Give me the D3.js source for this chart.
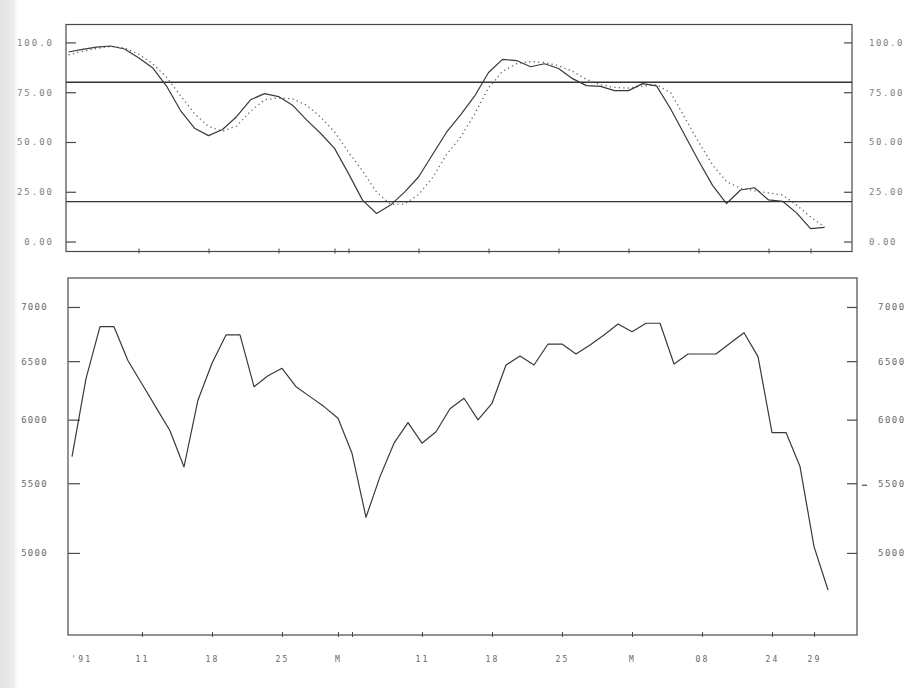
<!DOCTYPE html>
<html>
<head>
<meta charset="utf-8">
<script src="https://cdn.jsdelivr.net/npm/d3@7"></script>
<style>
  html, body { margin: 0; padding: 0; background: #fff; }
  svg { display: block; }
  .lbl { font-family: "DejaVu Sans Mono", monospace; }
</style>
</head>
<body>
<script>
// Trading-day index of each session, '91 Feb -> Apr
const closePrice = [5704, 6346, 6814, 6814, 6504, 6300, 6102, 5910, 5624, 6164,
  6481, 6737, 6737, 6277, 6371, 6437, 6277, 6192, 6108, 6012,
  5730, 5250, 5550, 5810, 5976, 5810, 5902, 6090, 6178, 5998,
  6136, 6466, 6546, 6466, 6654, 6654, 6564, 6645, 6737, 6839,
  6767, 6846, 6846, 6475, 6564, 6564, 6564, 6661, 6758, 6540,
  5895, 5895, 5627, 5043, 4753];

// Stochastic %K (solid) and %D (dotted)
const stochK = [95.2, 96.5, 97.6, 98.2, 96.7, 92.3, 87.3, 78.1, 65.8, 56.9,
  53.2, 56.3, 62.7, 71.2, 74.3, 72.8, 68.5, 61.1, 54.4, 46.8,
  34.1, 20.8, 14.1, 18.3, 24.8, 32.4, 43.7, 54.9, 63.6, 73.0,
  84.9, 91.5, 90.9, 87.8, 89.3, 86.9, 81.8, 78.3, 77.9, 75.8,
  75.8, 79.3, 78.2, 66.7, 53.6, 40.6, 28.2, 19.1, 25.9, 27.0,
  20.9, 20.2, 14.4, 6.5, 7.1];
const stochD = [93.7, 95.5, 97.0, 98.0, 97.2, 94.1, 89.4, 82.5, 73.3, 64.2,
  57.8, 55.4, 58.0, 65.4, 71.2, 72.1, 71.7, 68.5, 62.5, 55.1,
  44.8, 35.5, 24.9, 18.7, 18.8, 23.6, 32.1, 43.7, 52.4, 63.9,
  77.2, 85.5, 89.3, 90.4, 89.9, 88.3, 85.5, 81.4, 78.7, 77.4,
  77.1, 78.1, 78.7, 74.8, 62.5, 50.0, 38.5, 30.1, 26.7, 25.5,
  24.4, 23.4, 18.3, 12.3, 7.4];

const levels = [80, 20];

const stochTicks = [0, 25, 50, 75, 100];
const stochTickLabels = ["0.00", "25.00", "50.00", "75.00", "100.0"];
const priceTicks = [5000, 5500, 6000, 6500, 7000];
const priceTickLabels = ["5000", "5500", "6000", "6500", "7000"];
const priceMark = [5500];

const tickDays = [5, 10, 15, 19, 20, 25, 30, 35, 40, 45, 50, 53];
const tickLabels = ["11", "18", "25", "M", "", "11", "18", "25", "M", "08", "24", "29"];
const yearLabel = "'91";

const W = 915, H = 688;
const ink = "#4a4a4a";

const svg = d3.select("body").append("svg")
  .attr("width", W).attr("height", H);

// paper edge shading
const defs = svg.append("defs");
const grad = defs.append("linearGradient").attr("id", "edge");
grad.append("stop").attr("offset", "0%").attr("stop-color", "#e2e2e2");
grad.append("stop").attr("offset", "75%").attr("stop-color", "#ececec");
grad.append("stop").attr("offset", "100%").attr("stop-color", "#ffffff");
svg.append("rect").attr("x", 0).attr("y", 0).attr("width", 18).attr("height", H)
  .attr("fill", "url(#edge)");

const styleAxis = (g, color, size, spacing) => {
  g.select(".domain").remove();
  g.selectAll(".tick line").attr("stroke", ink).attr("stroke-width", 1.2);
  g.selectAll(".tick text")
    .attr("class", "lbl")
    .attr("fill", color)
    .attr("font-size", size)
    .attr("letter-spacing", spacing);
};

// ---------- upper panel: stochastic ----------
const upper = { l: 66, r: 852, t: 24.5, b: 251.5 };
const xUp = d3.scaleLinear().domain([-0.18, 55.96]).range([upper.l, upper.r]);
const yUp = d3.scaleLinear().domain([-5, 109]).range([upper.b, upper.t]);

const gUp = svg.append("g");

gUp.append("rect")
  .attr("x", upper.l).attr("y", upper.t)
  .attr("width", upper.r - upper.l).attr("height", upper.b - upper.t)
  .attr("fill", "none").attr("stroke", ink).attr("stroke-width", 1.2);

gUp.selectAll("line.level").data(levels).join("line")
  .attr("class", "level")
  .attr("x1", upper.l).attr("x2", upper.r)
  .attr("y1", d => yUp(d)).attr("y2", d => yUp(d))
  .attr("stroke", "#333").attr("stroke-width", 1.3);

gUp.append("g")
  .attr("transform", `translate(${upper.l},0)`)
  .call(d3.axisLeft(yUp).tickValues(stochTicks).tickSize(-10).tickPadding(12)
    .tickFormat((d, i) => stochTickLabels[i]))
  .call(g => styleAxis(g, "#808080", 9, 2));

gUp.append("g")
  .attr("transform", `translate(${upper.r},0)`)
  .call(d3.axisRight(yUp).tickValues(stochTicks).tickSize(-8).tickPadding(17)
    .tickFormat((d, i) => stochTickLabels[i]))
  .call(g => styleAxis(g, "#808080", 9, 1.6));

gUp.append("g")
  .attr("transform", `translate(0,${upper.b})`)
  .call(d3.axisBottom(xUp).tickValues(tickDays).tickSize(3).tickFormat(""))
  .call(g => { g.select(".domain").remove();
    g.selectAll(".tick line").attr("y1", -3).attr("y2", 2).attr("stroke", ink); });

const lineUp = d3.line().x((d, i) => xUp(i)).y(d => yUp(d));

gUp.append("path").datum(stochD)
  .attr("d", lineUp).attr("fill", "none")
  .attr("stroke", "#666").attr("stroke-width", 1.3)
  .attr("stroke-dasharray", "1.3,3.2");

gUp.append("path").datum(stochK)
  .attr("d", lineUp).attr("fill", "none")
  .attr("stroke", "#3a3a3a").attr("stroke-width", 1.2)
  .attr("stroke-linejoin", "round");

// ---------- lower panel: price ----------
const lower = { l: 68, r: 857, t: 278, b: 635 };
const xLo = d3.scaleLinear().domain([-0.286, 56.07]).range([lower.l, lower.r]);
const yLo = d3.scaleLog().domain([4469, 7283]).range([lower.b, lower.t]);

const gLo = svg.append("g");

gLo.append("rect")
  .attr("x", lower.l).attr("y", lower.t)
  .attr("width", lower.r - lower.l).attr("height", lower.b - lower.t)
  .attr("fill", "none").attr("stroke", ink).attr("stroke-width", 1.2);

gLo.append("g")
  .attr("transform", `translate(${lower.l},0)`)
  .call(d3.axisLeft(yLo).tickValues(priceTicks).tickSize(-12).tickPadding(20)
    .tickFormat((d, i) => priceTickLabels[i]))
  .call(g => styleAxis(g, "#6a6a6a", 9, 1.3));

gLo.append("g")
  .attr("transform", `translate(${lower.r},0)`)
  .call(d3.axisRight(yLo).tickValues(priceTicks).tickSize(-10).tickPadding(21)
    .tickFormat((d, i) => priceTickLabels[i]))
  .call(g => styleAxis(g, "#6a6a6a", 9, 1.5));

// small marker beside the right-hand price scale
gLo.selectAll("line.mark").data(priceMark).join("line")
  .attr("class", "mark")
  .attr("x1", lower.r + 5).attr("x2", lower.r + 10)
  .attr("y1", d => yLo(d) + 2).attr("y2", d => yLo(d) + 2)
  .attr("stroke", ink).attr("stroke-width", 1.2);

gLo.append("g")
  .attr("transform", `translate(0,${lower.b})`)
  .call(d3.axisBottom(xLo).tickValues(tickDays).tickSize(3).tickPadding(18)
    .tickFormat((d, i) => tickLabels[i]))
  .call(g => { g.select(".domain").remove();
    g.selectAll(".tick line").attr("y1", -3).attr("y2", 2).attr("stroke", ink);
    g.selectAll(".tick text").attr("class", "lbl").attr("fill", "#666")
      .attr("font-size", 8).attr("letter-spacing", 2.2); });

gLo.append("text")
  .attr("class", "lbl")
  .attr("x", xLo(0.7)).attr("y", lower.b + 27)
  .attr("text-anchor", "middle")
  .attr("fill", "#666").attr("font-size", 8).attr("letter-spacing", 2.2)
  .text(yearLabel);

const lineLo = d3.line().x((d, i) => xLo(i)).y(d => yLo(d));

gLo.append("path").datum(closePrice)
  .attr("d", lineLo).attr("fill", "none")
  .attr("stroke", "#3a3a3a").attr("stroke-width", 1.2)
  .attr("stroke-linejoin", "round");
</script>
</body>
</html>
